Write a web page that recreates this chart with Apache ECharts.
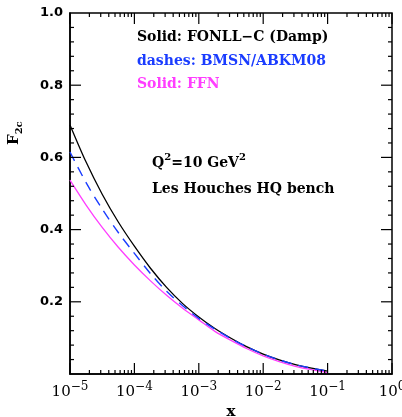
<!DOCTYPE html>
<html>
<head>
<meta charset="utf-8">
<script src="https://cdn.jsdelivr.net/npm/echarts@6/dist/echarts.min.js"></script>
<style>
  html, body { margin: 0; padding: 0; background: #fff; }
  #chart { width: 402px; height: 417px; }
</style>
</head>
<body>
<div id="chart"></div>
<script>
// x values (log scale, quarter decades) shared by all curves
const xs = [1e-5, 1.778e-5, 3.162e-5, 5.623e-5, 1e-4, 1.778e-4, 3.162e-4, 5.623e-4,
  1e-3, 1.778e-3, 3.162e-3, 5.623e-3, 1e-2, 1.778e-2, 3.162e-2, 5.623e-2, 1e-1];
// F2c
const fonll = [0.690, 0.587, 0.498, 0.421, 0.354, 0.293, 0.240, 0.195, 0.158, 0.126, 0.099, 0.075, 0.055, 0.039, 0.026, 0.016, 0.008];
const bmsn  = [0.615, 0.530, 0.457, 0.392, 0.334, 0.278, 0.229, 0.189, 0.154, 0.124, 0.098, 0.075, 0.055, 0.039, 0.026, 0.016, 0.008];
const ffn   = [0.537, 0.468, 0.406, 0.351, 0.302, 0.258, 0.218, 0.182, 0.150, 0.118, 0.093, 0.070, 0.050, 0.034, 0.021, 0.012, 0.004];

// tick positions for the frame
const majorX = [1e-5, 1e-4, 1e-3, 1e-2, 1e-1, 1];
const minorX = [];
[-5, -4, -3, -2, -1].forEach(d => {
  for (let k = 2; k <= 9; k++) minorX.push(k * Math.pow(10, d));
});
const majorY = [0.2, 0.4, 0.6, 0.8];
const minorY = [];
for (let i = 1; i < 25; i++) if (i % 5 !== 0) minorY.push(i * 0.04);

const BLUE = "#1a3cff";
const MAGENTA = "#ff3dff";
const FONT = "DejaVu Serif";

const pairs = arr => xs.map((x, i) => [x, arr[i]]);

// one custom series draws all inward ticks of the frame
const ticks = [];
majorX.forEach(v => ticks.push([v, 0, "x", 11]));
minorX.forEach(v => ticks.push([v, 0, "x", 4]));
majorY.forEach(v => ticks.push([1e-5, v, "y", 11]));
minorY.forEach(v => ticks.push([1e-5, v, "y", 4]));

const chart = echarts.init(document.getElementById("chart"));

const option = {
  animation: false,
  backgroundColor: "#fff",
  grid: {
    left: 70, top: 13, right: 10, bottom: 43,
    outerBoundsMode: "none",
    containLabel: false,
    show: true,
    borderColor: "#000",
    borderWidth: 1.5,
  },
  xAxis: {
    type: "log",
    logBase: 10,
    min: 1e-5,
    max: 1,
    interval: 1,
    axisLine: {show: true, lineStyle: {color: "#000", width: 1.5}},
    axisTick: {show: false},
    minorTick: {show: false},
    splitLine: {show: false},
    axisLabel: {
      margin: 5,
      color: "#000",
      formatter: function(v) {
        const e = Math.round(Math.log10(v));
        return "{b|10}{s|" + (e < 0 ? "\u2212" + (-e) : e) + "}";
      },
      rich: {
        b: {fontFamily: FONT, fontSize: 15, color: "#000", padding: [6, 0, 0, 0]},
        s: {fontFamily: FONT, fontSize: 12, color: "#000", padding: [0, 0, 6, 0]},
      },
    },
    name: "x",
    nameLocation: "middle",
    nameGap: 26,
    nameTextStyle: {fontFamily: FONT, fontSize: 15, fontWeight: "bold", color: "#000"},
  },
  yAxis: {
    type: "value",
    min: 0,
    max: 1,
    interval: 0.2,
    axisLine: {show: true, lineStyle: {color: "#000", width: 1.5}},
    axisTick: {show: false},
    minorTick: {show: false},
    splitLine: {show: false},
    axisLabel: {
      margin: 7,
      fontFamily: "DejaVu Sans",
      fontSize: 13,
      fontWeight: "bold",
      color: "#000",
      formatter: v => (v === 0 ? "" : v.toFixed(1)),
    },
  },
  series: [{
    name: "FFN",
    type: "line",
    data: pairs(ffn),
    smooth: 0.3,
    symbol: "none",
    lineStyle: {color: MAGENTA, width: 1.3},
  }, {
    name: "FONLL-C",
    type: "line",
    data: pairs(fonll),
    smooth: 0.3,
    symbol: "none",
    lineStyle: {color: "#000", width: 1.3},
  }, {
    name: "BMSN",
    type: "line",
    data: pairs(bmsn),
    smooth: 0.3,
    symbol: "none",
    lineStyle: {color: BLUE, width: 1.4, type: [10, 7]},
  }, {
    type: "custom",
    silent: true,
    z: 5,
    data: ticks,
    renderItem: function(params, api) {
      const t = ticks[params.dataIndex];
      const len = t[3];
      const style = {stroke: "#000", lineWidth: 1.2};
      let a, b, lines;
      if (t[2] === "x") {
        a = api.coord([t[0], 0]);
        b = api.coord([t[0], 1]);
        lines = [[a[0], a[1], a[0], a[1] - len], [b[0], b[1], b[0], b[1] + len]];
      } else {
        a = api.coord([1e-5, t[1]]);
        b = api.coord([1, t[1]]);
        lines = [[a[0], a[1], a[0] + len, a[1]], [b[0], b[1], b[0] - len, b[1]]];
      }
      return {
        type: "group",
        children: lines.map(l => ({
          type: "line",
          shape: {x1: l[0], y1: l[1], x2: l[2], y2: l[3]},
          style: style,
        })),
      };
    },
  }],
  graphic: [{
    type: "text",
    left: 137, top: 30,
    style: {text: "Solid: FONLL\u2212C (Damp)", fill: "#000", font: "bold 14px " + FONT},
  }, {
    type: "text",
    left: 137, top: 54,
    style: {text: "dashes: BMSN/ABKM08", fill: BLUE, font: "bold 14px " + FONT},
  }, {
    type: "text",
    left: 137, top: 77,
    style: {text: "Solid: FFN", fill: MAGENTA, font: "bold 14px " + FONT},
  }, {
    type: "text",
    left: 152, top: 152,
    style: {
      text: "{n|Q}{s|2}{n|=10 GeV}{s|2}",
      rich: {
        n: {font: "bold 14px " + FONT, fill: "#000", padding: [6, 0, 0, 0]},
        s: {font: "bold 10px " + FONT, fill: "#000", padding: [0, 0, 6, 0]},
      },
    },
  }, {
    type: "text",
    left: 152, top: 182,
    style: {text: "Les Houches HQ bench", fill: "#000", font: "bold 14px " + FONT},
  }, {
    type: "text",
    x: 7, y: 145,
    rotation: Math.PI / 2,
    style: {
      text: "{f|F}{s|2c}",
      rich: {
        f: {font: "bold 15px " + FONT, fill: "#000", padding: [0, 0, 4, 0]},
        s: {font: "bold 10px " + FONT, fill: "#000", padding: [6, 0, 0, 0]},
      },
    },
  }],
};

chart.setOption(option);
</script>
</body>
</html>
